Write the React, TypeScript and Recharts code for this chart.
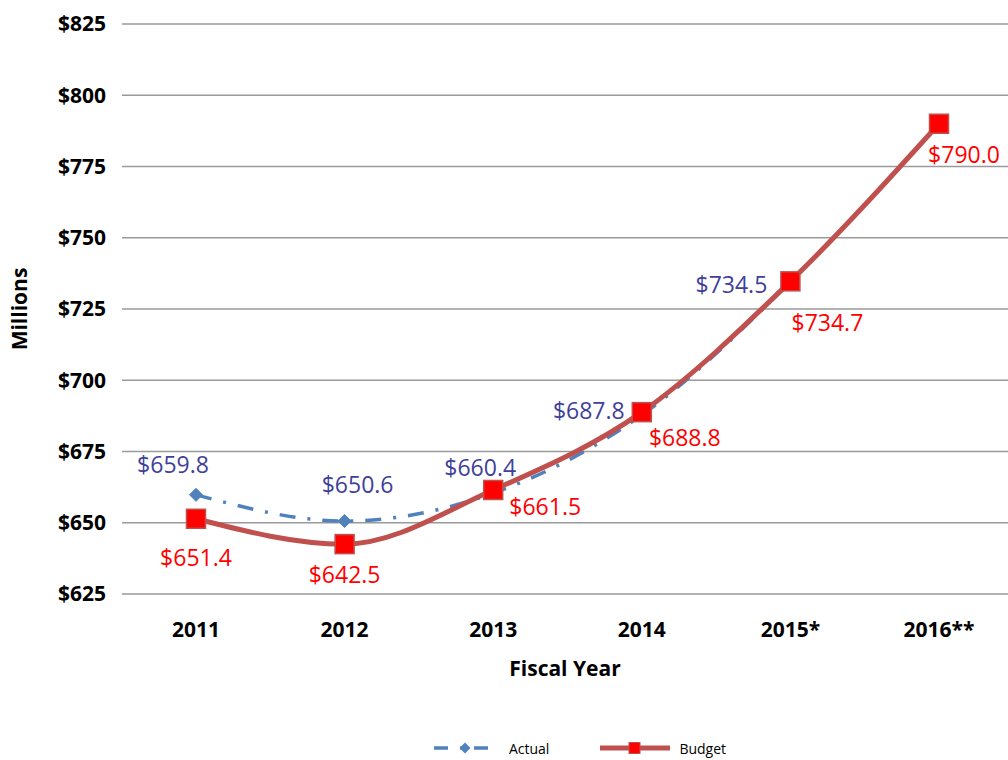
import React from "react";
import { LineChart, Line, XAxis, YAxis, CartesianGrid, Legend, LabelList } from "recharts";

const years = ["2011", "2012", "2013", "2014", "2015*", "2016**"];
const actual: (number | null)[] = [659.8, 650.6, 660.4, 687.8, 734.5, null];
const budget = [651.4, 642.5, 661.5, 688.8, 734.7, 790.0];
const yTicks = [625, 650, 675, 700, 725, 750, 775, 800, 825];

const data = years.map((year, i) => ({ year, actual: actual[i], budget: budget[i] }));

// label offsets from the point (text centre), per category
const actualOffsets = [
  [-23, -31],
  [13, -37],
  [-13, -26],
  [-53, -5],
  [-59, 2],
];
const budgetOffsets = [
  [0, 38],
  [0, 30],
  [52, 16],
  [43, 25],
  [37, 41],
  [25, 30],
];

const FONT = "'Open Sans', sans-serif";
const BLUE = "#4F81BD";
const RED_LINE = "#C0504D";
const ACTUAL_TEXT = "#403F9B";
const BUDGET_TEXT = "#FF0000";

const money = (v: number) => `$${v.toFixed(1)}`;

const makeLabel = (offsets: number[][], color: string) => (props: any) => {
  const { x, y, value, index } = props;
  if (value == null || !offsets[index]) return null;
  const [dx, dy] = offsets[index];
  return (
    <text
      x={x + dx}
      y={y + dy}
      textAnchor="middle"
      dominantBaseline="central"
      fill={color}
      fontFamily={FONT}
      fontSize={23}
    >
      {money(value)}
    </text>
  );
};

const Diamond = (props: any) => {
  const { cx, cy, value } = props;
  if (value == null || cx == null) return null;
  const r = 6.5;
  return (
    <path
      d={`M${cx},${cy - r} L${cx + r},${cy} L${cx},${cy + r} L${cx - r},${cy} Z`}
      fill={BLUE}
      stroke={BLUE}
    />
  );
};

const Square = (props: any) => {
  const { cx, cy } = props;
  if (cx == null) return null;
  const s = 9.5;
  return <rect x={cx - s} y={cy - s} width={s * 2} height={s * 2} fill="#FF0000" stroke={RED_LINE} strokeWidth={1.5} />;
};

const renderLegend = () => (
  <div style={{ display: "flex", justifyContent: "center", alignItems: "center", fontFamily: FONT, fontSize: 14, color: "#000", height: 24 }}>
    <svg width={62} height={14} style={{ marginLeft: 150, marginRight: 15 }}>
      <line x1={2} y1={7} x2={60} y2={7} stroke={BLUE} strokeWidth={3.5} strokeDasharray="14 12 2 12" />
      <path d="M33,1.5 L38.5,7 L33,12.5 L27.5,7 Z" fill={BLUE} />
    </svg>
    <span style={{ marginRight: 50 }}>Actual</span>
    <svg width={72} height={16} style={{ marginRight: 8 }}>
      <line x1={1} y1={8} x2={71} y2={8} stroke={RED_LINE} strokeWidth={5} />
      <rect x={30} y={2.5} width={11} height={11} fill="#FF0000" stroke={RED_LINE} />
    </svg>
    <span>Budget</span>
  </div>
);

export default function App() {
  return (
    <div style={{ position: "absolute", left: 0, top: 0, width: 1008, height: 760, background: "#fff" }}>
      <LineChart width={1008} height={760} data={data} margin={{ top: 24, right: 0, left: 0, bottom: 0 }}>
        <CartesianGrid vertical={false} stroke="#9a9a9a" strokeWidth={1.5} />
        <XAxis
          dataKey="year"
          padding={{ left: 74, right: 69 }}
          axisLine={false}
          tickLine={false}
          height={142}
          tick={{ fontFamily: FONT, fontSize: 21, fontWeight: 700, fill: "#000" }}
          tickMargin={22}
          label={{ value: "Fiscal Year", position: "insideTop", offset: 67, style: { fontFamily: FONT, fontSize: 21, fontWeight: 700, fill: "#000" } }}
        />
        <YAxis
          domain={[625, 825]}
          ticks={yTicks}
          interval={0}
          width={122}
          axisLine={false}
          tickLine={false}
          tickMargin={10}
          tickFormatter={(v: number) => `$${v}`}
          tick={{ fontFamily: FONT, fontSize: 21, fontWeight: 700, fill: "#000" }}
          label={{ value: "Millions", angle: -90, position: "insideLeft", offset: 20, style: { textAnchor: "middle", fontFamily: FONT, fontSize: 21, fontWeight: 700, fill: "#000" } }}
        />
        <Legend verticalAlign="bottom" height={24} content={renderLegend} />
        <Line
          dataKey="actual"
          name="Actual"
          type="monotone"
          stroke={BLUE}
          strokeWidth={3.5}
          strokeDasharray="16 12 3 12"
          dot={<Diamond />}
          activeDot={false}
          connectNulls={false}
          isAnimationActive={false}
        >
          <LabelList dataKey="actual" content={makeLabel(actualOffsets, ACTUAL_TEXT)} />
        </Line>
        <Line
          dataKey="budget"
          name="Budget"
          type="monotone"
          stroke={RED_LINE}
          strokeWidth={5}
          dot={<Square />}
          activeDot={false}
          isAnimationActive={false}
        >
          <LabelList dataKey="budget" content={makeLabel(budgetOffsets, BUDGET_TEXT)} />
        </Line>
      </LineChart>
    </div>
  );
}
